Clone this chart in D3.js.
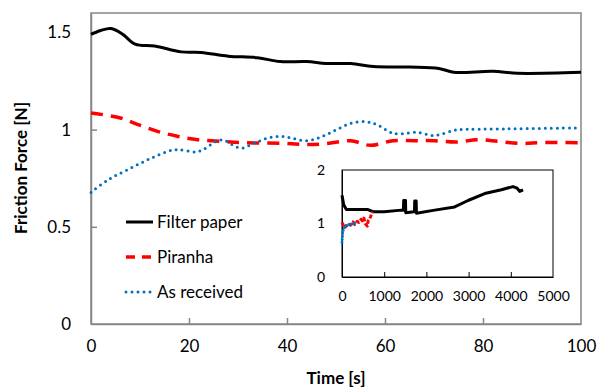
<!DOCTYPE html>
<html>
<head>
<meta charset="utf-8">
<script src="https://cdn.jsdelivr.net/npm/d3@7"></script>
<style>
  body { margin: 0; background: #fff; }
  svg { display: block; font-family: Lato, "Open Sans", sans-serif; }
</style>
</head>
<body>
<div id="chart"></div>
<script>
// main plot data
var filterTime  = [0, 2, 4.1, 6.5, 9, 13, 18.4, 22.5, 28, 34, 38.6, 44, 48, 53, 57.6, 65, 71, 74, 82, 87, 100];
var filterForce = [1.49, 1.51, 1.52, 1.49, 1.44, 1.43, 1.40, 1.397, 1.378, 1.37, 1.35, 1.35, 1.34, 1.34, 1.325, 1.322, 1.315, 1.295, 1.30, 1.29, 1.295];

var piranhaTime  = [0, 6, 9.6, 13.7, 17.8, 21.8, 26.5, 31, 39, 44, 48, 53, 57, 61.6, 66, 70, 74.6, 78.8, 83, 87.5, 92, 100];
var piranhaForce = [1.086, 1.06, 1.026, 0.99, 0.965, 0.948, 0.94, 0.933, 0.93, 0.923, 0.928, 0.943, 0.919, 0.943, 0.943, 0.943, 0.936, 0.948, 0.94, 0.929, 0.933, 0.933];

var asRecTime  = [0, 3.5, 7.5, 12, 16.3, 18, 21.4, 22.9, 26, 27.3, 30.6, 33.7, 36.5, 39.2, 41.3, 44, 46.7, 49.8, 52.9, 56, 58.3, 61.4, 62.7, 66.5, 69.8, 71.8, 74, 75.3, 85, 100];
var asRecForce = [0.677, 0.742, 0.794, 0.85, 0.893, 0.897, 0.885, 0.897, 0.945, 0.943, 0.905, 0.935, 0.959, 0.965, 0.954, 0.943, 0.96, 0.996, 1.031, 1.041, 1.026, 0.983, 0.978, 0.986, 0.97, 0.979, 0.996, 1.0, 1.004, 1.009];

// inset data (long run)
var insetFilterTime  = [0, 40, 103, 300, 616, 730, 1000, 1407, 1455, 1462, 1505, 1510, 1700, 1718, 1723, 1758, 1763, 2197, 2670, 2986, 3382, 3777, 4052, 4150, 4211, 4290];
var insetFilterForce = [1.53, 1.35, 1.26, 1.26, 1.26, 1.22, 1.22, 1.25, 1.25, 1.43, 1.43, 1.2, 1.22, 1.22, 1.42, 1.42, 1.19, 1.25, 1.31, 1.43, 1.56, 1.63, 1.69, 1.66, 1.6, 1.63];
var insetPiranhaTime  = [0, 60, 100, 160, 200, 260, 300, 360, 400, 450, 480, 520, 550, 600, 620, 650, 680, 700, 730];
var insetPiranhaForce = [1.02, 0.92, 0.95, 1.0, 0.97, 1.03, 0.98, 1.04, 1.02, 1.08, 1.05, 1.1, 1.0, 0.95, 1.05, 1.08, 1.13, 1.18, 1.22];
var insetAsRecTime  = [0, 10, 20, 60, 150, 300, 360];
var insetAsRecForce = [0.65, 0.75, 0.85, 0.95, 0.98, 1.0, 1.02];

var xTicks = [0, 20, 40, 60, 80, 100];
var yTicks = [0, 0.5, 1, 1.5];
var insetXTicks = [0, 1000, 2000, 3000, 4000, 5000];
var insetYTicks = [0, 1, 2];

var legendLabels = ["Filter paper", "Piranha", "As received"];

var width = 600, height = 392;
var margin = {top: 13, right: 19, bottom: 68, left: 91};

var svg = d3.select("#chart").append("svg")
    .attr("width", width)
    .attr("height", height);

var x = d3.scaleLinear().domain([0, 100]).range([margin.left, width - margin.right]);
var y = d3.scaleLinear().domain([0, 1.6]).range([height - margin.bottom, margin.top]);

// plot frame
svg.append("rect")
    .attr("x", x(0)).attr("y", y(1.6))
    .attr("width", x(100) - x(0)).attr("height", y(0) - y(1.6))
    .attr("fill", "none").attr("stroke", "#868686").attr("stroke-width", 1.5);

// axes, ticks inside
var xAxis = svg.append("g")
    .attr("transform", `translate(0,${y(0)})`)
    .call(d3.axisBottom(x).tickValues(xTicks).tickSizeInner(-6).tickSizeOuter(0).tickPadding(16));
var yAxis = svg.append("g")
    .attr("transform", `translate(${x(0)},0)`)
    .call(d3.axisLeft(y).tickValues(yTicks).tickSizeInner(-6).tickSizeOuter(0).tickPadding(20)
        .tickFormat(d => d));
[xAxis, yAxis].forEach(function(a) {
    a.select(".domain").attr("stroke", "#868686").attr("stroke-width", 1.5);
    a.selectAll(".tick line").attr("stroke", "#868686").attr("stroke-width", 1.5);
    a.selectAll(".tick text").attr("font-family", "Lato").attr("font-size", 17).attr("fill", "#000");
});
xAxis.selectAll(".tick").filter(d => d === 0 || d === 100).select("line").remove();
yAxis.selectAll(".tick").filter(d => d === 0).select("line").remove();

// axis titles
svg.append("text")
    .attr("x", 336).attr("y", 384)
    .attr("text-anchor", "middle")
    .attr("font-weight", "bold").attr("font-size", 17)
    .text("Time [s]");
svg.append("text")
    .attr("transform", "translate(27,168) rotate(-90)")
    .attr("text-anchor", "middle")
    .attr("font-weight", "bold").attr("font-size", 17)
    .text("Friction Force [N]");

function series(tArr, fArr) {
    return tArr.map((t, i) => [t, fArr[i]]);
}

var line = d3.line()
    .x(d => x(d[0]))
    .y(d => y(d[1]))
    .curve(d3.curveCatmullRom);

var styles = [
    {color: "#000000", dash: null, width: 3, cap: "butt"},
    {color: "#FF0000", dash: "12 8", width: 3.5, cap: "butt"},
    {color: "#0070C0", dash: "0 6", width: 3, cap: "round"}
];

var mainData = [
    series(filterTime, filterForce),
    series(piranhaTime, piranhaForce),
    series(asRecTime, asRecForce)
];

mainData.forEach(function(d, i) {
    var s = styles[i];
    svg.append("path")
        .datum(d)
        .attr("fill", "none")
        .attr("stroke", s.color)
        .attr("stroke-width", s.width)
        .attr("stroke-linecap", s.cap)
        .attr("stroke-dasharray", s.dash)
        .attr("d", line);
});

// legend
var legend = svg.append("g");
legendLabels.forEach(function(label, i) {
    var s = styles[i];
    var ly = 222 + i * 35;
    legend.append("line")
        .attr("x1", 126).attr("x2", 153)
        .attr("y1", ly).attr("y2", ly)
        .attr("stroke", s.color)
        .attr("stroke-width", s.width)
        .attr("stroke-linecap", s.cap)
        .attr("stroke-dasharray", i === 1 ? "9 7" : s.dash);
    legend.append("text")
        .attr("x", 157).attr("y", ly + 6)
        .attr("font-size", 17)
        .text(label);
});

// inset
var ix = d3.scaleLinear().domain([0, 5000]).range([342, 553]);
var iy = d3.scaleLinear().domain([0, 2]).range([277, 170]);

var inset = svg.append("g");
inset.append("rect")
    .attr("x", ix(0)).attr("y", iy(2))
    .attr("width", ix(5000) - ix(0)).attr("height", iy(0) - iy(2))
    .attr("fill", "#fff").attr("stroke", "#000").attr("stroke-width", 1);

var ixAxis = inset.append("g")
    .attr("transform", `translate(0,${iy(0)})`)
    .call(d3.axisBottom(ix).tickValues(insetXTicks).tickSizeInner(-5).tickSizeOuter(0).tickPadding(14)
        .tickFormat(d => d));
var iyAxis = inset.append("g")
    .attr("transform", `translate(${ix(0)},0)`)
    .call(d3.axisLeft(iy).tickValues(insetYTicks).tickSize(0).tickPadding(17)
        .tickFormat(d => d));
[ixAxis, iyAxis].forEach(function(a) {
    a.select(".domain").attr("stroke", "#000");
    a.selectAll(".tick line").attr("stroke", "#000");
    a.selectAll(".tick text").attr("font-family", "Lato").attr("font-size", 14).attr("fill", "#000");
});
ixAxis.selectAll(".tick").filter(d => d === 0 || d === 5000).select("line").remove();

var iline = d3.line()
    .x(d => ix(d[0]))
    .y(d => iy(d[1]))
    .curve(d3.curveLinear);

var insetData = [
    series(insetFilterTime, insetFilterForce),
    series(insetPiranhaTime, insetPiranhaForce),
    series(insetAsRecTime, insetAsRecForce)
];
var insetDash = [null, "4 2", "0 3"];
insetData.forEach(function(d, i) {
    var s = styles[i];
    inset.append("path")
        .datum(d)
        .attr("fill", "none")
        .attr("stroke", s.color)
        .attr("stroke-width", 3)
        .attr("stroke-linecap", i === 2 ? "round" : "butt")
        .attr("stroke-linejoin", "round")
        .attr("stroke-dasharray", insetDash[i])
        .attr("d", iline);
});
</script>
</body>
</html>
